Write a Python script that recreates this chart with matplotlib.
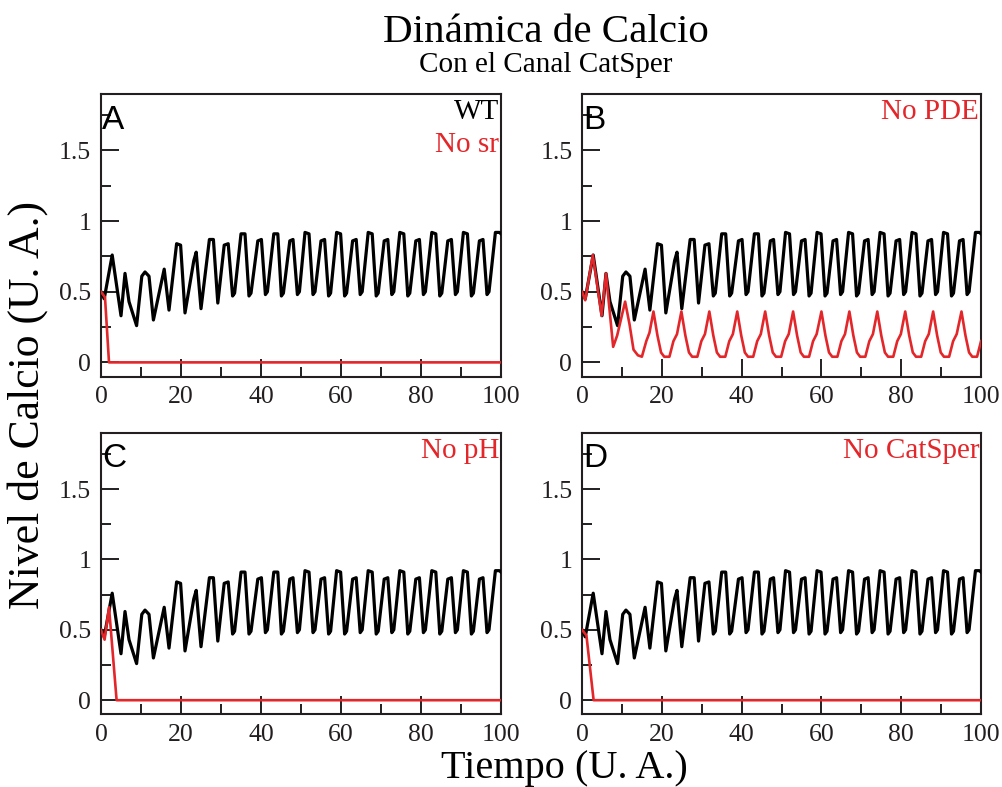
import matplotlib
matplotlib.use('Agg')
import matplotlib.pyplot as plt
from matplotlib.ticker import MultipleLocator

plt.rcParams['font.family'] = ['Liberation Serif', 'DejaVu Serif']

# Curva WT (igual en los cuatro paneles): vertices (tiempo, calcio)
wt_t = [0, 0.8, 2.8, 5.0, 6.0, 7.0, 8.9, 10.2, 11.0, 12.0, 13.1, 15.8, 17.0,
        18.9, 19.9, 21.0, 23.2, 23.8, 25.0, 27.1, 28.1, 29.2, 30.8, 31.8,
        32.9, 33.4, 35.0, 36.0, 37.0, 37.5, 39.2, 40.1, 41.1, 41.6, 43.2, 44.2,
        45.1, 45.6, 47.2, 48.0, 49.1, 49.6, 51.0, 52.0, 53.0, 53.5, 55.0, 55.9,
        56.9, 57.4, 58.9, 59.9, 60.9, 61.4, 62.9, 63.8, 64.8, 65.3, 66.8, 67.8,
        68.8, 69.3, 70.8, 71.7, 72.7, 73.2, 74.7, 75.7, 76.7, 77.2, 78.7, 79.6,
        80.6, 81.1, 82.7, 83.7, 84.7, 85.2, 86.7, 87.6, 88.6, 89.1, 90.6, 91.6,
        92.6, 93.1, 94.6, 95.5, 96.5, 97.0, 98.6, 99.6, 100]
wt_ca = [0.50, 0.45, 0.76, 0.33, 0.63, 0.43, 0.26, 0.61, 0.64, 0.61, 0.30, 0.66, 0.37,
         0.84, 0.83, 0.35, 0.72, 0.78, 0.38, 0.87, 0.87, 0.42, 0.83, 0.84,
         0.47, 0.49, 0.91, 0.91, 0.47, 0.49, 0.86, 0.87, 0.48, 0.50, 0.91, 0.91,
         0.47, 0.49, 0.86, 0.87, 0.48, 0.50, 0.92, 0.91, 0.48, 0.50, 0.86, 0.87,
         0.47, 0.49, 0.92, 0.91, 0.47, 0.49, 0.86, 0.87, 0.48, 0.50, 0.92, 0.91,
         0.47, 0.49, 0.86, 0.87, 0.48, 0.50, 0.92, 0.91, 0.47, 0.49, 0.86, 0.87,
         0.48, 0.50, 0.92, 0.91, 0.47, 0.49, 0.86, 0.87, 0.48, 0.50, 0.92, 0.91,
         0.47, 0.49, 0.86, 0.87, 0.48, 0.50, 0.92, 0.92, 0.91]

# A: sin retículo sarcoplásmico
nosr_t = [0, 1.0, 2.0, 100]
nosr_ca = [0.50, 0.46, 0.0, 0.0]

# B: sin PDE
nopde_t = [0, 0.8, 2.7, 4.9, 6.0, 7.8, 8.8, 10.8, 11.9, 12.9, 14.0, 15.0, 16.1, 16.9,
           17.9, 18.9, 19.8, 20.6, 21.9, 22.9, 23.8,
           24.9, 25.9, 26.8, 27.6, 28.9, 29.9, 30.8,
           31.9, 32.9, 33.8, 34.6, 35.9, 36.9, 37.8,
           38.9, 39.9, 40.8, 41.6, 42.9, 43.9, 44.8,
           45.9, 46.9, 47.8, 48.6, 49.9, 50.9, 51.8,
           52.9, 53.9, 54.8, 55.6, 56.9, 57.9, 58.8,
           60.0, 61.0, 61.9, 62.7, 64.0, 65.0, 65.9,
           67.0, 68.0, 68.9, 69.7, 71.0, 72.0, 72.9,
           74.0, 75.0, 75.9, 76.7, 78.0, 79.0, 79.9,
           81.0, 82.0, 82.9, 83.7, 85.0, 86.0, 86.9,
           88.0, 89.0, 89.9, 90.7, 92.0, 93.0, 93.9,
           95.1, 96.1, 97.0, 97.8, 99.0, 100]
nopde_ca = [0.50, 0.44, 0.76, 0.33, 0.63, 0.11, 0.19, 0.43, 0.27, 0.09, 0.05, 0.04, 0.15, 0.21,
            0.36, 0.19, 0.07, 0.04, 0.04, 0.15, 0.20,
            0.36, 0.19, 0.07, 0.04, 0.04, 0.15, 0.20,
            0.36, 0.19, 0.07, 0.04, 0.04, 0.15, 0.20,
            0.36, 0.19, 0.07, 0.04, 0.04, 0.15, 0.20,
            0.36, 0.19, 0.07, 0.04, 0.04, 0.15, 0.20,
            0.36, 0.19, 0.07, 0.04, 0.04, 0.15, 0.20,
            0.36, 0.19, 0.07, 0.04, 0.04, 0.15, 0.20,
            0.36, 0.19, 0.07, 0.04, 0.04, 0.15, 0.20,
            0.36, 0.19, 0.07, 0.04, 0.04, 0.15, 0.20,
            0.36, 0.19, 0.07, 0.04, 0.04, 0.15, 0.20,
            0.36, 0.19, 0.07, 0.04, 0.04, 0.15, 0.20,
            0.36, 0.19, 0.07, 0.04, 0.04, 0.15]

# C: sin regulación por pH
noph_t = [0, 0.9, 2.0, 3.9, 100]
noph_ca = [0.50, 0.43, 0.66, 0.0, 0.0]

# D: sin CatSper
nocat_t = [0, 1.1, 2.9, 100]
nocat_ca = [0.50, 0.46, 0.0, 0.0]

letras = ['A', 'B', 'C', 'D']
mutantes = ['No sr', 'No PDE', 'No pH', 'No CatSper']
curvas = [(nosr_t, nosr_ca), (nopde_t, nopde_ca), (noph_t, noph_ca), (nocat_t, nocat_ca)]

ROJO = '#e3262a'

fig = plt.figure(figsize=(10.03, 7.87), dpi=100)
posiciones = [
    [0.1007, 0.5216, 0.3988, 0.3590],
    [0.5803, 0.5216, 0.3978, 0.3590],
    [0.1007, 0.0924, 0.3988, 0.3578],
    [0.5803, 0.0924, 0.3978, 0.3578],
]

for i, pos in enumerate(posiciones):
    ax = fig.add_axes(pos)
    ax.plot(wt_t, wt_ca, color='black', lw=2.3, zorder=3)
    t, ca = curvas[i]
    ax.plot(t, ca, color=ROJO, lw=1.9, zorder=4)

    ax.set_xlim(0, 100)
    ax.set_ylim(-0.1, 1.9)
    ax.xaxis.set_major_locator(MultipleLocator(20))
    ax.xaxis.set_minor_locator(MultipleLocator(10))
    ax.yaxis.set_major_locator(MultipleLocator(0.5))
    ax.yaxis.set_minor_locator(MultipleLocator(0.25))
    ax.set_yticks([0, 0.5, 1, 1.5])
    ax.set_yticklabels(['0', '0.5', '1', '1.5'])
    ax.tick_params(which='both', direction='in', width=1.4, labelsize=18.5,
                   top=False, right=False, colors='#231f20')
    ax.tick_params(which='major', length=13, pad=7)
    ax.tick_params(which='minor', length=7)
    for s in ax.spines.values():
        s.set_linewidth(1.5)
        s.set_color('#231f20')

    ax.text(0.003, 0.962, letras[i], transform=ax.transAxes, ha='left', va='top',
            fontsize=24, family=['Liberation Sans', 'DejaVu Sans'], zorder=5)
    if i == 0:
        ax.text(0.995, 0.982, 'WT', transform=ax.transAxes, ha='right', va='top',
                fontsize=21, color='black')
        ax.text(0.995, 0.866, mutantes[i], transform=ax.transAxes, ha='right', va='top',
                fontsize=21, color=ROJO)
    else:
        ax.text(0.995, 0.982, mutantes[i], transform=ax.transAxes, ha='right', va='top',
                fontsize=21, color=ROJO)

fig.text(0.544, 0.947, 'Dinámica de Calcio', ha='center', va='baseline', fontsize=29.5)
fig.text(0.544, 0.909, 'Con el Canal CatSper', ha='center', va='baseline', fontsize=21)
fig.text(0.027, 0.485, 'Nivel de Calcio (U. A.)', ha='center', va='center',
         rotation=90, fontsize=31.5)
fig.text(0.563, 0.012, 'Tiempo (U. A.)', ha='center', va='baseline', fontsize=29)

fig.savefig('out.png', dpi=100)
